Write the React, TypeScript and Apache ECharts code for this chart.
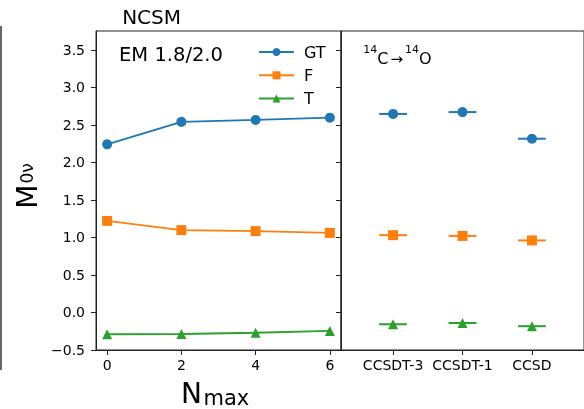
import React, { useEffect, useRef } from 'react';
import * as echarts from 'echarts';

const nmax = [0, 2, 4, 6];
const ncsmGT = [2.24, 2.54, 2.565, 2.595];
const ncsmF = [1.22, 1.097, 1.084, 1.06];
const ncsmT = [-0.29, -0.287, -0.27, -0.246];
const ccMethods = ['CCSDT-3', 'CCSDT-1', 'CCSD'];
const ccGT = [2.645, 2.67, 2.315];
const ccF = [1.03, 1.02, 0.96];
const ccT = [-0.157, -0.14, -0.183];
const ccXErr = 0.2;
const yTicks = [-0.5, 0, 0.5, 1, 1.5, 2, 2.5, 3, 3.5];
const nmaxTicks = [0, 2, 4, 6];
const seriesNames = ['GT', 'F', 'T'];
const colors = ['#1f77b4', '#ff7f0e', '#2ca02c'];
const symbols = ['circle', 'rect', 'triangle'];

const FONT = 'DejaVu Sans';
const AX = '#222';

function fmtY(v: number) {
  const s = Math.abs(v).toFixed(1);
  return v < 0 ? '\u2212' + s : s;
}

function textEl(text: string, x: number, y: number, size: number, align = 'left', rich?: any) {
  return {
    type: 'text',
    x,
    y,
    silent: true,
    style: {
      text,
      x: 0,
      y: 0,
      fill: '#000',
      fontSize: size,
      fontFamily: FONT,
      align,
      textAlign: align,
      verticalAlign: 'middle',
      textVerticalAlign: 'middle',
      rich,
    },
  };
}

export default function App() {
  const ref = useRef<HTMLDivElement>(null);
  useEffect(() => {
    if (!ref.current) return;
    const chart = echarts.init(ref.current, null, { renderer: 'svg' });
    const leftVals = [ncsmGT, ncsmF, ncsmT];
    const rightVals = [ccGT, ccF, ccT];

    const axisLine = { show: true, onZero: false, lineStyle: { color: AX, width: 1 } };
    const tickStyle = { color: AX, width: 1 };

    const series: any[] = [];
    leftVals.forEach((vals, k) => {
      series.push({
        name: seriesNames[k],
        type: 'line',
        xAxisIndex: 0,
        yAxisIndex: 0,
        data: nmax.map((x, i) => [x, vals[i]]),
        symbol: symbols[k],
        symbolSize: 10,
        showSymbol: true,
        lineStyle: { width: 1.8, color: colors[k] },
        itemStyle: { color: colors[k] },
        z: 3,
      });
    });
    rightVals.forEach((vals, k) => {
      series.push({
        name: seriesNames[k] + ' CC err',
        type: 'custom',
        xAxisIndex: 1,
        yAxisIndex: 1,
        data: vals.map((y, i) => [i, y, ccXErr]),
        renderItem: (params: any, api: any) => {
          const x = api.value(0);
          const y = api.value(1);
          const e = api.value(2);
          const p1 = api.coord([x - e, y]);
          const p2 = api.coord([x + e, y]);
          return {
            type: 'line',
            shape: { x1: p1[0], y1: p1[1], x2: p2[0], y2: p2[1] },
            style: { stroke: colors[k], lineWidth: 2 },
          };
        },
        z: 2,
      });
      series.push({
        name: seriesNames[k] + ' CC',
        type: 'scatter',
        xAxisIndex: 1,
        yAxisIndex: 1,
        data: vals.map((y, i) => [i, y]),
        symbol: symbols[k],
        symbolSize: 10,
        itemStyle: { color: colors[k], opacity: 1 },
        z: 3,
      });
    });

    chart.setOption({
      animation: false,
      textStyle: { fontFamily: FONT },
      grid: [
        { left: 96, top: 31, width: 245, height: 319, show: true, borderColor: AX, borderWidth: 1 },
        { left: 341, top: 31, width: 246, height: 319, show: true, borderColor: AX, borderWidth: 1 },
      ],
      legend: {
        data: seriesNames,
        orient: 'vertical',
        left: 258,
        top: 44,
        padding: 0,
        itemWidth: 35,
        itemHeight: 10,
        itemGap: 7.3,
        selectedMode: false,
        textStyle: { fontSize: 16, color: '#000', fontFamily: FONT, padding: [0, 0, 0, 5] },
      },
      xAxis: [
        {
          type: 'value',
          gridIndex: 0,
          min: -0.3,
          max: 6.3,
          splitLine: { show: false },
          axisLine,
          axisTick: { show: true, inside: false, length: 5, lineStyle: tickStyle, customValues: nmaxTicks },
          axisLabel: {
            customValues: nmaxTicks,
            formatter: (v: number) => String(v),
            fontSize: 14,
            color: '#000',
            fontFamily: FONT,
            margin: 8,
          },
        },
        {
          type: 'value',
          gridIndex: 1,
          min: -0.75,
          max: 2.75,
          splitLine: { show: false },
          axisLine,
          axisTick: { show: true, inside: false, length: 5, lineStyle: tickStyle, customValues: [0, 1, 2] },
          axisLabel: {
            customValues: [0, 1, 2],
            formatter: (v: number) => ccMethods[Math.round(v)] ?? '',
            fontSize: 14,
            color: '#000',
            fontFamily: FONT,
            margin: 8,
          },
        },
      ],
      yAxis: [
        {
          type: 'value',
          gridIndex: 0,
          min: -0.5,
          max: 3.75,
          name: '{m|M}{s|0\u03bd}',
          nameLocation: 'middle',
          nameRotate: 90,
          nameGap: 55,
          nameTextStyle: {
            color: '#000',
            fontFamily: FONT,
            rich: {
              m: { fontSize: 28, fontFamily: FONT, color: '#000', padding: [0, 0, 0, 9] },
              s: { fontSize: 17, fontFamily: FONT, color: '#000', padding: [0, 0, 0, 1] },
            },
          },
          splitLine: { show: false },
          axisLine,
          axisTick: { show: true, inside: false, length: 5, lineStyle: tickStyle, customValues: yTicks },
          axisLabel: {
            customValues: yTicks,
            formatter: (v: number) => fmtY(v),
            fontSize: 14,
            color: '#000',
            fontFamily: FONT,
            margin: 11,
          },
        },
        {
          type: 'value',
          gridIndex: 1,
          min: -0.5,
          max: 3.75,
          splitLine: { show: false },
          axisLine,
          axisTick: { show: true, inside: false, length: 5, lineStyle: tickStyle, customValues: yTicks },
          axisLabel: { show: false },
        },
      ],
      graphic: [
        { type: 'line', silent: true, shape: { x1: 1, y1: 26, x2: 1, y2: 370 }, style: { stroke: '#333', lineWidth: 1.5 } },
        textEl('NCSM', 151.6, 17, 20, 'center'),
        textEl('EM 1.8/2.0', 171, 54, 19.5, 'center'),
        textEl('{s|14}{b|C}{a|\u2192}{s|14}{b|O}', 397.5, 55, 16, 'center', {
          s: { fontSize: 11, fontFamily: FONT, fill: '#000', color: '#000', verticalAlign: 'top', lineHeight: 11 },
          b: { fontSize: 16, fontFamily: FONT, fill: '#000', color: '#000', verticalAlign: 'bottom', lineHeight: 22 },
          a: { fontSize: 15, fontFamily: FONT, fill: '#000', color: '#000', verticalAlign: 'bottom', lineHeight: 22, padding: [0, 2, 0, 2] },
        }),
        textEl('N', 181, 393.5, 28, 'left'),
        textEl('max', 203.5, 397.5, 21, 'left'),
      ],
      series,
    });
    return () => chart.dispose();
  }, []);
  return <div ref={ref} style={{ position: 'fixed', left: 0, top: 0, width: 584, height: 409 }} />;
}
